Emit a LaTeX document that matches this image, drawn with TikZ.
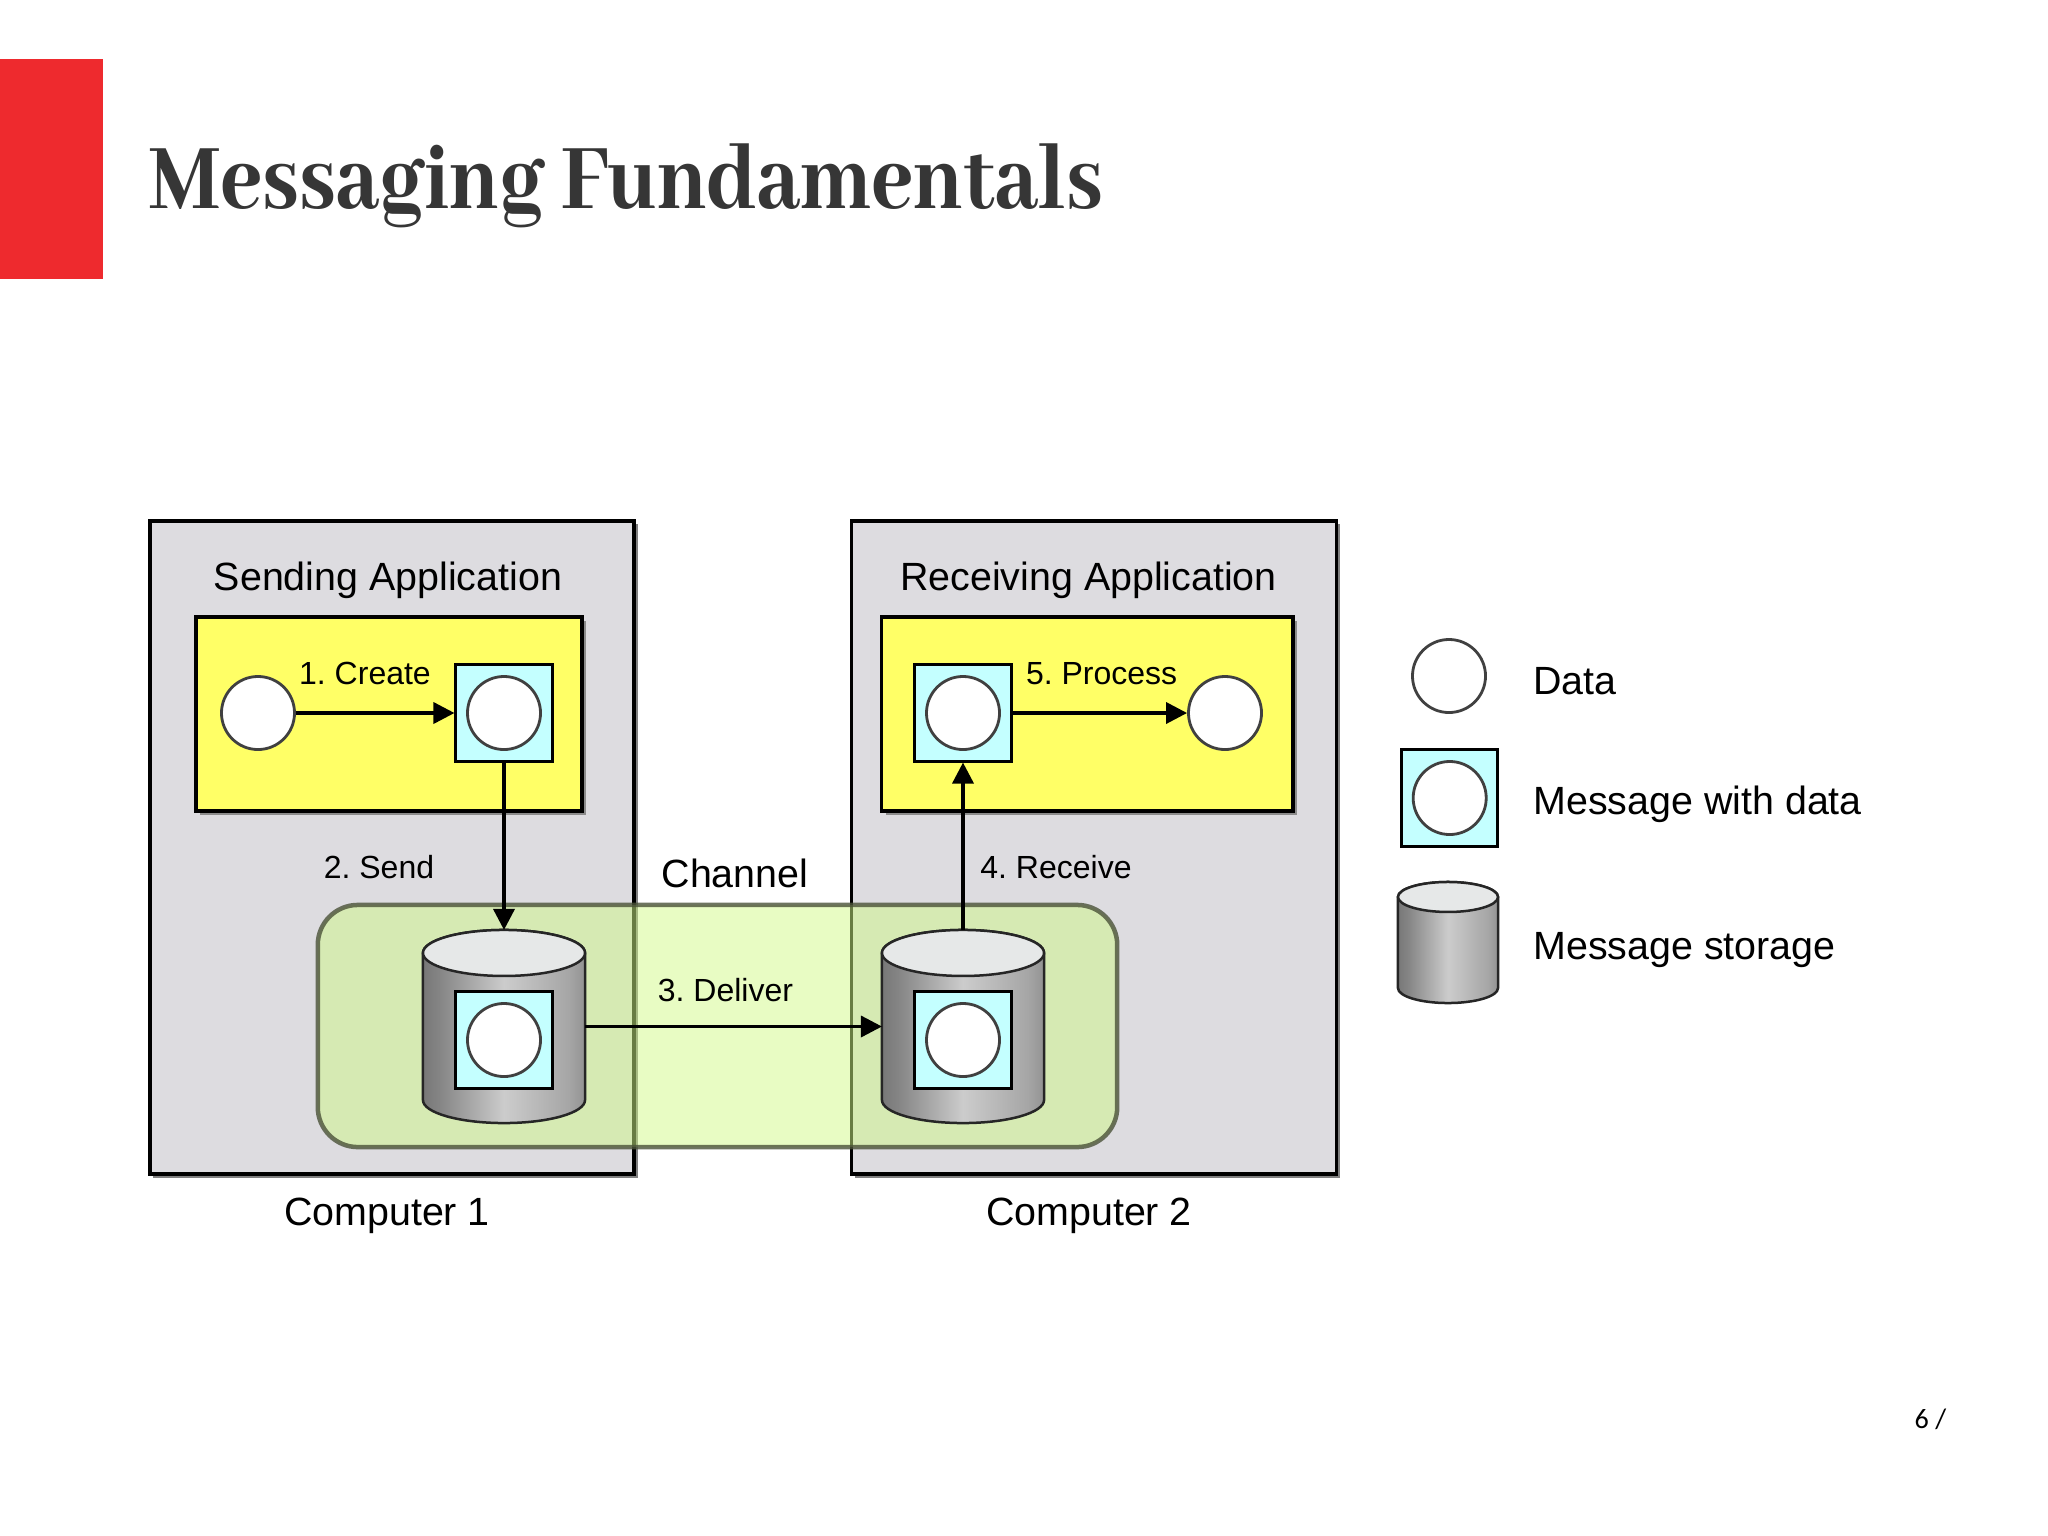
\documentclass[tikz,border=0pt]{standalone}
\usepackage{fontspec}
\setmainfont{Liberation Sans}
\newfontfamily\titlefont[FakeStretch=0.885]{Abhaya Libre ExtraBold}
\newfontfamily\pagefont{Carlito}
\usetikzlibrary{arrows.meta,shadows}

\definecolor{boxgray}{HTML}{DDDCE0}
\definecolor{appyellow}{HTML}{FFFF66}
\definecolor{msgcyan}{HTML}{C4FFFF}
\definecolor{chanfill}{RGB}{209,249,135}
\definecolor{chanline}{HTML}{4A5238}
\definecolor{slidered}{HTML}{EE2A2E}
\definecolor{titlegray}{HTML}{363636}
\definecolor{storetop}{HTML}{E6E8E8}

\pgfdeclarehorizontalshading{storeshade}{100bp}{
    color(0bp)=(black!72);
    color(12bp)=(black!66);
    color(30bp)=(black!48);
    color(50bp)=(black!20);
    color(70bp)=(black!35);
    color(88bp)=(black!62);
    color(100bp)=(black!74)}

% body and lid of a can: node name, half width, lid height
\newcommand{\drawcan}[3]{
    \shade[shading=storeshade,draw=black!85,line width=0.025cm]
        ([yshift=-#3]#1.north west) -- ([yshift=#3]#1.south west)
        arc [start angle=180,end angle=360,x radius=#2,y radius=#3]
        -- ([yshift=-#3]#1.north east)
        arc [start angle=0,end angle=180,x radius=#2,y radius=#3] -- cycle;
    \draw[draw=black!85,line width=0.025cm,fill=storetop] ([yshift=-#3]#1.north) ellipse [x radius=#2,y radius=#3];
}

\tikzset{
    biglabel/.style={font=\fontsize{11.2pt}{13pt}\selectfont,anchor=base},
    smalllabel/.style={font=\fontsize{9.1pt}{11pt}\selectfont,anchor=base},
    compbox/.style={rectangle,draw=black,line width=0.035cm,fill=boxgray,inner sep=0pt,
        drop shadow={shadow xshift=0.035cm,shadow yshift=-0.035cm,fill=black!50,opacity=1}},
    appbox/.style={rectangle,draw=black,line width=0.035cm,fill=appyellow,inner sep=0pt,
        drop shadow={shadow xshift=0.04cm,shadow yshift=-0.04cm,fill=black!45,opacity=1}},
    msgbox/.style={rectangle,draw=black,line width=0.03cm,fill=msgcyan,inner sep=0pt,
        minimum width=0.96cm,minimum height=0.96cm},
    datacirc/.style={circle,draw=black!75,line width=0.028cm,fill=white,inner sep=0pt,
        minimum size=0.73cm},
    storecan/.style={rectangle,inner sep=0pt,outer sep=0pt},
}

\begin{document}
\frenchspacing
\begin{tikzpicture}[x=0.01cm,y=-0.01cm]
\useasboundingbox (0,0) rectangle (2048,1536);

\node[rectangle,fill=slidered,minimum width=1.03cm,minimum height=2.2cm,inner sep=0pt,outer sep=0pt,anchor=north west] (bar) at (0,58.5) {};
\node[font=\fontsize{29pt}{34pt}\titlefont,text=titlegray,anchor=base west,inner sep=0pt] (title) at (149,208) {Messaging Fundamentals};
\node[font=\fontsize{8pt}{10pt}\pagefont,text=black,anchor=base west,inner sep=0pt] (pageno) at (1914,1428) {6 /};

% computers and applications
\node[compbox,minimum width=4.84cm,minimum height=6.53cm] (comp1) at (392,847.5) {};
\node[compbox,minimum width=4.845cm,minimum height=6.53cm] (comp2) at (1094,847.5) {};
\node[appbox,minimum width=3.86cm,minimum height=1.94cm] (app1) at (389,714) {};
\node[appbox,minimum width=4.11cm,minimum height=1.94cm] (app2) at (1087.3,714) {};

\begin{scope}[every node/.style={biglabel}]
    \node (sendlab) at (388,590) {Sending Application};
    \node (recvlab) at (1088.5,590) {Receiving Application};
    \node (comp1lab) at (387,1225) {Computer 1};
    \node (comp2lab) at (1089,1225) {Computer 2};
    \node (chanlab) at (735,887) {Channel};
\end{scope}

% channel, the boxes show through it
\node[rectangle,rounded corners=0.4cm,draw=chanline,fill=chanfill,fill opacity=0.5,draw opacity=0.8,
    line width=0.045cm,minimum width=7.99cm,minimum height=2.42cm,inner sep=0pt] (channel) at (717.5,1026) {};

\node[storecan,minimum width=1.62cm,minimum height=1.93cm] (store1) at (504,1026.5) {};
\node[storecan,minimum width=1.62cm,minimum height=1.93cm] (store2) at (963,1026.5) {};
\node[storecan,minimum width=1.0cm,minimum height=1.21cm] (store3) at (1448,942.5) {};
\foreach \s/\w/\r in {store1/0.81cm/0.23cm,store2/0.81cm/0.23cm,store3/0.5cm/0.15cm}{
    \drawcan{\s}{\w}{\r}
}

\begin{scope}[every node/.style={msgbox}]
    \node (msg1) at (504,713) {};
    \node (msg2) at (963,713) {};
    \node (msg3) at (504,1040) {};
    \node (msg4) at (963,1040) {};
    \node (msg5) at (1449.7,798) {};
\end{scope}

\begin{scope}[every node/.style={datacirc}]
    \node (data1) at (258,713) {};
    \node (data2) at (1225,713) {};
    \node (data3) at (504,713) {};
    \node (data4) at (963,713) {};
    \node (data5) at (504,1040) {};
    \node (data6) at (963,1040) {};
    \node (data7) at (1449,676) {};
    \node (data8) at (1449.7,798) {};
\end{scope}

\begin{scope}[>={Triangle[black,length=0.21cm,width=0.21cm]},
              every edge/.style={draw=black,line width=0.035cm}]
    \path [->] (data1) edge (msg1);
    \path [->] (msg1) edge (store1);
    \path [->] (store1) edge (store2);
    \path [->] (store2) edge (msg2);
    \path [->] (msg2) edge (data2);
\end{scope}

\begin{scope}[every node/.style={smalllabel}]
    \node (createlab) at (365,684) {1. Create};
    \node (sendstep) at (379,878) {2. Send};
    \node (deliverlab) at (725.5,1001) {3. Deliver};
    \node (receivelab) at (1056,878) {4. Receive};
    \node (processlab) at (1101.6,684) {5. Process};
\end{scope}

\begin{scope}[every node/.style={biglabel,anchor=base west}]
    \node (legdata) at (1521,694) {Data};
    \node (legmsg) at (1521,814) {Message with data};
    \node (legstore) at (1521,959) {Message storage};
\end{scope}
\end{tikzpicture}
\end{document}
